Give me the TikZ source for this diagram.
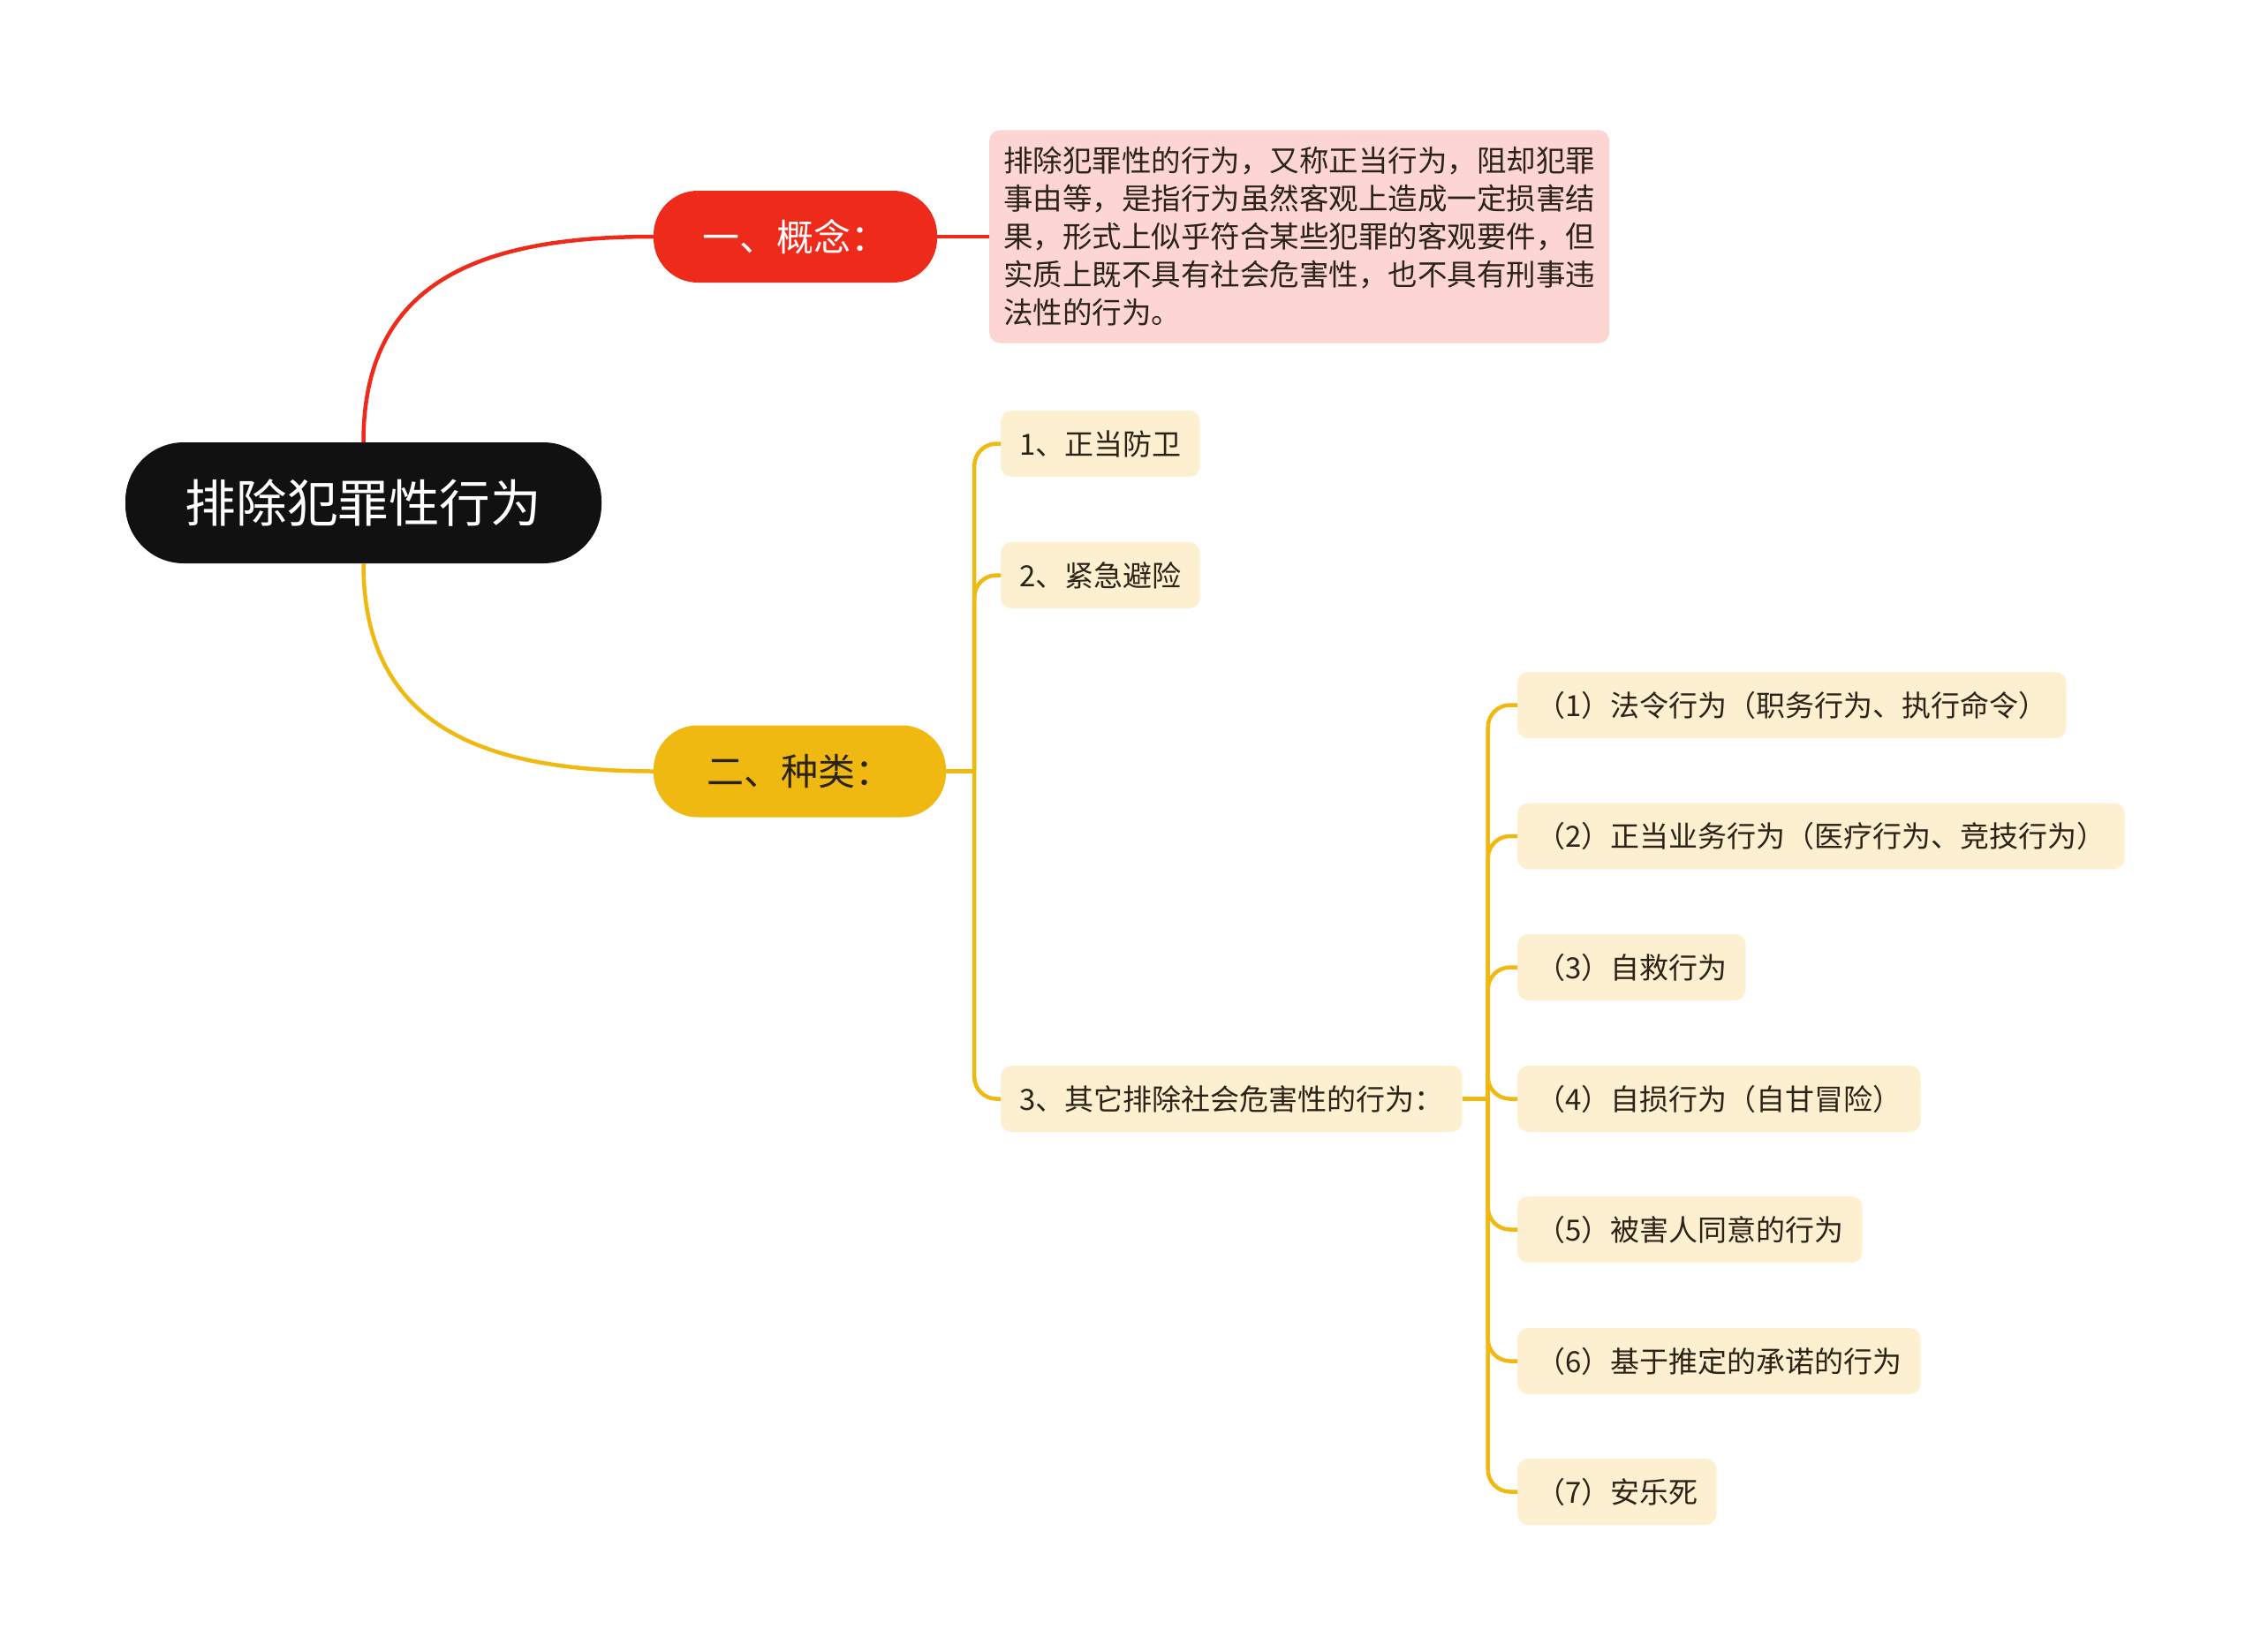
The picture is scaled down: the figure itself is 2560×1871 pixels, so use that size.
\documentclass[tikz,border=0pt]{standalone}
\usepackage{fontspec}
\setmainfont{Noto Sans CJK SC}
\definecolor{rootc}{HTML}{111111}
\definecolor{redc}{HTML}{EE2A1B}
\definecolor{yelc}{HTML}{EFB912}
\definecolor{leafc}{HTML}{FDF0D0}
\definecolor{pinkc}{HTML}{FDD6D4}
\definecolor{txtc}{HTML}{2B2316}
\begin{document}
\begin{tikzpicture}[x=1pt,y=-1pt,
  leaf/.style={font=\fontsize{33}{43}\selectfont, text=txtc, fill=leafc,
    inner xsep=21pt, inner ysep=0pt, minimum height=75pt, rounded corners=12pt, anchor=west},
  defbox/.style={font=\fontsize{33.5}{43}\selectfont, text=txtc, fill=pinkc,
    inner xsep=16pt, inner ysep=19pt, rounded corners=12pt, align=left, anchor=west},
  mainbr/.style={font=\fontsize{42}{48}\selectfont, minimum width=#1, minimum height=104pt,
    rounded corners=50pt, inner sep=0pt},
  redline/.style={draw=redc, line width=4.5pt},
  yelline/.style={draw=yelc, line width=4.5pt},
]
\fill[white] (0,0) rectangle (2560,1871);
\useasboundingbox (0,0) rectangle (2560,1871);

% root
\node[fill=rootc, text=white, rounded corners=66pt, minimum width=539pt, minimum height=137pt,
  inner sep=0pt, font=\fontsize{57.6}{62}\selectfont] (root) at (411.5,569.5) {排除犯罪性行为};

% level 1
\node[mainbr=321pt, fill=redc, text=white] (concept) at (900.5,268) {一、概念：};
\node[mainbr=331pt, fill=yelc, text=txtc] (type) at (905.5,873.5) {二、种类：};

% definition
\node[defbox] (def) at (1120,268) {排除犯罪性的行为，又称正当行为，阻却犯罪\\事由等，是指行为虽然客观上造成一定损害结\\果，形式上似乎符合某些犯罪的客观要件，但\\实质上既不具有社会危害性，也不具有刑事违\\法性的行为。};

% level 2
\node[leaf] (c1) at (1133,502.5) {1、正当防卫};
\node[leaf] (c2) at (1133,651.5) {2、紧急避险};
\node[leaf] (c3) at (1133,1244.5) {3、其它排除社会危害性的行为：};

% level 3
\node[leaf] (d1) at (1718,798.5) {（1）法令行为（职务行为、执行命令）};
\node[leaf] (d2) at (1718,947) {（2）正当业务行为（医疗行为、竞技行为）};
\node[leaf] (d3) at (1718,1095.5) {（3）自救行为};
\node[leaf] (d4) at (1718,1244.5) {（4）自损行为（自甘冒险）};
\node[leaf] (d5) at (1718,1392.5) {（5）被害人同意的行为};
\node[leaf] (d6) at (1718,1541.5) {（6）基于推定的承诺的行为};
\node[leaf] (d7) at (1718,1689.5) {（7）安乐死};

% connectors
\draw[redline] (root.north) .. controls +(0,-180) and +(-200,0) .. (concept.west);
\draw[redline] (concept.east) -- (def.west);
\draw[yelline] (root.south) .. controls +(0,180) and +(-200,0) .. (type.west);

\path (type.east) ++(32,0) coordinate (tj);
\draw[yelline] (type.east) -- (tj);
\foreach \c in {c1,c2,c3}
  \draw[yelline, rounded corners=25pt] (tj) |- (\c.west);

\path (c3.east) ++(29,0) coordinate (sj);
\draw[yelline] (c3.east) -- (sj);
\foreach \d in {d1,d2,d3,d4,d5,d6,d7}
  \draw[yelline, rounded corners=25pt] (sj) |- (\d.west);
\end{tikzpicture}
\end{document}
